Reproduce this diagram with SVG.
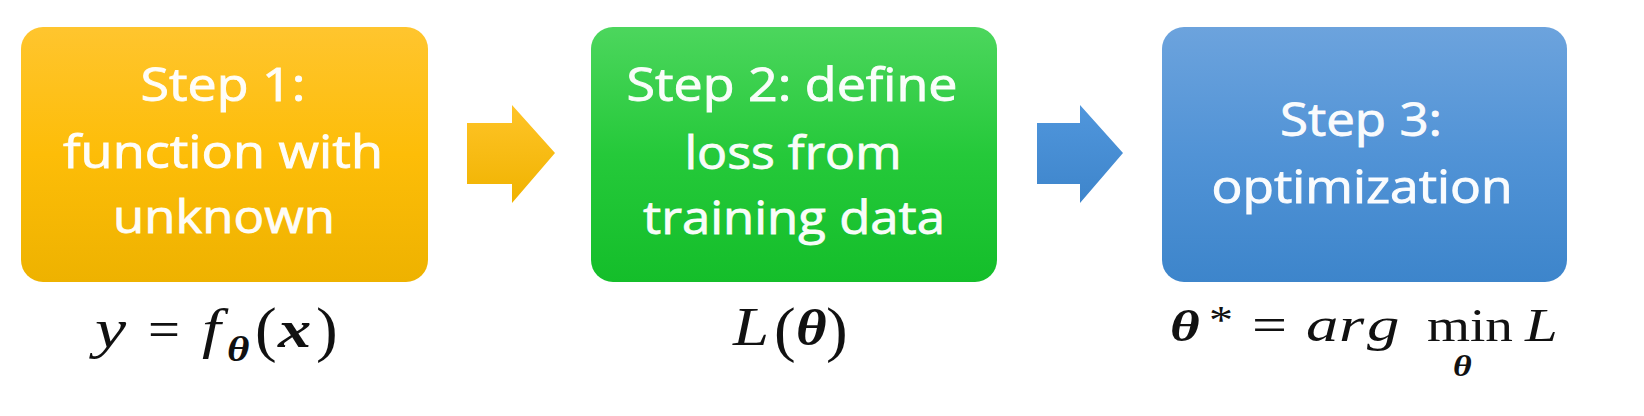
<svg xmlns="http://www.w3.org/2000/svg" width="1644" height="416" viewBox="0 0 1644 416">
  <defs>
    <linearGradient id="gOrange" x1="0" y1="0" x2="0" y2="1">
      <stop offset="0" stop-color="#FFC52E"/>
      <stop offset="0.5" stop-color="#FDBD08"/>
      <stop offset="1" stop-color="#EEB200"/>
    </linearGradient>
    <linearGradient id="gGreen" x1="0" y1="0" x2="0" y2="1">
      <stop offset="0" stop-color="#4CD65D"/>
      <stop offset="0.5" stop-color="#25C93A"/>
      <stop offset="1" stop-color="#14BE2A"/>
    </linearGradient>
    <linearGradient id="gBlue" x1="0" y1="0" x2="0" y2="1">
      <stop offset="0" stop-color="#6CA3DD"/>
      <stop offset="0.5" stop-color="#5193D6"/>
      <stop offset="1" stop-color="#3D85CB"/>
    </linearGradient>
    <linearGradient id="gArrowO" x1="0" y1="0" x2="0" y2="1">
      <stop offset="0" stop-color="#FFC428"/>
      <stop offset="1" stop-color="#F0B300"/>
    </linearGradient>
    <linearGradient id="gArrowB" x1="0" y1="0" x2="0" y2="1">
      <stop offset="0" stop-color="#5096DC"/>
      <stop offset="1" stop-color="#3E85CB"/>
    </linearGradient>
  </defs>
  <style>
    .box { stroke: none; }
    .lbl { font-family: "Open Sans", "Liberation Sans", sans-serif; font-size: 45px; fill: #FFFFFF; fill-opacity: 0.97; stroke: #FFFFFF; stroke-width: 0.9; stroke-opacity: 0.9; text-anchor: middle; }
    .m { font-family: "Liberation Serif", "DejaVu Serif", serif; fill: #111111; }
    .it { font-style: italic; }
    .bi { font-style: italic; font-weight: bold; }
  </style>
  <rect width="1644" height="416" fill="#FFFFFF"/>

  <g id="connectors">
    <path d="M467,123 L512,123 L512,105 L555,153 L512,203 L512,184 L467,184 Z" fill="url(#gArrowO)"/>
    <path d="M1037,123 L1080,123 L1080,105 L1123,153 L1080,203 L1080,184 L1037,184 Z" fill="url(#gArrowB)"/>
  </g>

  <g id="step1">
    <rect class="box" x="21" y="27" width="407" height="255" rx="22" ry="22" fill="url(#gOrange)"/>
    <text class="lbl" x="223" y="101" textLength="165" lengthAdjust="spacingAndGlyphs">Step 1:</text>
    <text class="lbl" x="223" y="168" textLength="320" lengthAdjust="spacingAndGlyphs">function with</text>
    <text class="lbl" x="224" y="233" textLength="222" lengthAdjust="spacingAndGlyphs">unknown</text>
  </g>

  <g id="step2">
    <rect class="box" x="591" y="27" width="406" height="255" rx="22" ry="22" fill="url(#gGreen)"/>
    <text class="lbl" x="792" y="101" textLength="331" lengthAdjust="spacingAndGlyphs">Step 2: define</text>
    <text class="lbl" x="793" y="169" textLength="217" lengthAdjust="spacingAndGlyphs">loss from</text>
    <text class="lbl" x="794" y="234" textLength="302" lengthAdjust="spacingAndGlyphs">training data</text>
  </g>

  <g id="step3">
    <rect class="box" x="1162" y="27" width="405" height="255" rx="22" ry="22" fill="url(#gBlue)"/>
    <text class="lbl" x="1361" y="136" textLength="162" lengthAdjust="spacingAndGlyphs">Step 3:</text>
    <text class="lbl" x="1362" y="203" textLength="301" lengthAdjust="spacingAndGlyphs">optimization</text>
  </g>

  <g id="formula1">
    <text class="m it" transform="translate(95,347) scale(1.3,1)" font-size="54">y</text>
    <text class="m" x="148" y="347" font-size="52" textLength="32" lengthAdjust="spacingAndGlyphs">=</text>
    <text class="m it" transform="translate(202,347) scale(1.25,1)" font-size="54">f</text>
    <text class="m bi" transform="translate(227,361) scale(1.2,1)" font-size="36">θ</text>
    <text class="m" transform="translate(255,350) scale(1.05,1)" font-size="62">(</text>
    <text class="m bi" transform="translate(278,347) scale(1.28,1)" font-size="52">x</text>
    <text class="m" transform="translate(316,350) scale(1.05,1)" font-size="62">)</text>
  </g>

  <g id="formula2">
    <text class="m it" transform="translate(733,345) scale(1.2,1)" font-size="54">L</text>
    <text class="m" transform="translate(774,350) scale(1.05,1)" font-size="62">(</text>
    <text class="m bi" transform="translate(796,345) scale(1.18,1)" font-size="50">θ</text>
    <text class="m" transform="translate(826,350) scale(1.05,1)" font-size="62">)</text>
  </g>

  <g id="formula3">
    <text class="m bi" transform="translate(1170,341) scale(1.3,1)" font-size="44">θ</text>
    <text class="m" transform="translate(1209,333) scale(1.2,1)" font-size="40">*</text>
    <text class="m" x="1252" y="341" font-size="48" textLength="35" lengthAdjust="spacingAndGlyphs">=</text>
    <text class="m it" transform="translate(1306,341) scale(1.35,1)" font-size="48">a</text>
    <text class="m it" transform="translate(1339,341) scale(1.35,1)" font-size="48">r</text>
    <text class="m it" transform="translate(1367,341) scale(1.35,1)" font-size="48">g</text>
    <text class="m" x="1427" y="341" font-size="47" textLength="86" lengthAdjust="spacingAndGlyphs">min</text>
    <text class="m bi" transform="translate(1453,376) scale(1.2,1)" font-size="30">θ</text>
    <text class="m it" transform="translate(1525,341) scale(1.25,1)" font-size="47">L</text>
  </g>
</svg>
